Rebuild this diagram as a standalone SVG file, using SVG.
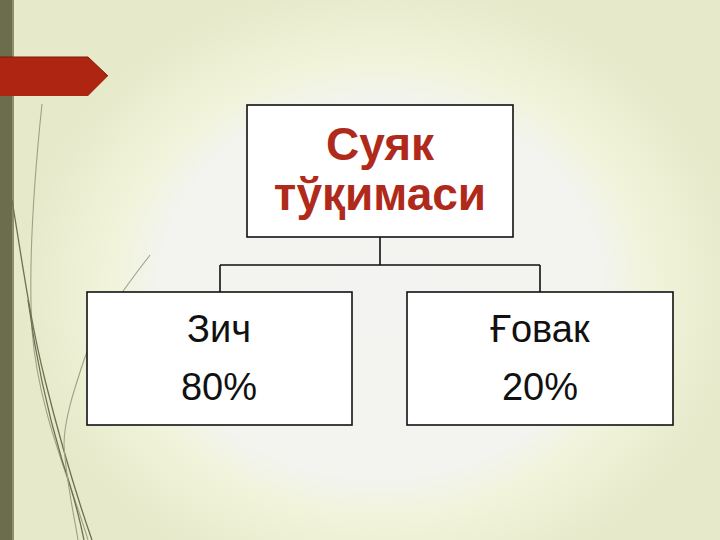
<svg xmlns="http://www.w3.org/2000/svg" width="720" height="540" viewBox="0 0 720 540">
  <defs>
    <radialGradient id="glow" cx="380" cy="290" r="360" gradientUnits="userSpaceOnUse" gradientTransform="translate(380 290) scale(1 0.85) translate(-380 -290)">
      <stop offset="0" stop-color="#F3F3F1"/>
      <stop offset="0.62" stop-color="#F3F3EF"/>
      <stop offset="0.75" stop-color="#F1F4DA"/>
      <stop offset="1" stop-color="#E7E9CB"/>
    </radialGradient>
    <style>
      .box { fill: #FFFFFF; stroke: #111111; stroke-width: 1.6; }
      .conn { fill: none; stroke: #111111; stroke-width: 1.6; }
      .title { font-family: "Liberation Sans", Arial, sans-serif; font-weight: bold; font-size: 46px; fill: #B02A1C; text-anchor: middle; }
      .lbl { font-family: "Liberation Sans", Arial, sans-serif; font-size: 38px; fill: #111111; text-anchor: middle; }
      .vine { fill: none; stroke: #6E7050; stroke-width: 1.3; }
      .vinel { fill: none; stroke: #9FA185; stroke-width: 1.1; }
    </style>
  </defs>
  <rect x="0" y="0" width="720" height="540" fill="url(#glow)"/>
  <rect x="0" y="0" width="12" height="540" fill="#6B6D4D"/>
  <rect x="12" y="0" width="2" height="540" fill="#8C8E6E"/>

  <g id="decor">
    <path class="vinel" d="M42,104 C34,180 28,260 32,330 C38,410 70,480 88,540"/>
    <path class="vine" d="M12,200 C22,260 30,320 45,380 C60,440 78,500 92,540"/>
    <path class="vine" d="M28,300 C36,360 50,420 62,460 C72,490 80,520 84,540"/>
    <path class="vinel" d="M150,255 C115,300 92,335 84,360 C74,390 64,420 64,445 C66,480 74,515 78,540"/>
    <path d="M0,57 L88,57 L108,76 L88,96 L0,96 Z" fill="#AE2612"/>
    <path d="M0,57 L88,57 L108,76" fill="none" stroke="#7A1A0C" stroke-width="1"/>
  </g>

  <g id="connectors">
    <path class="conn" d="M380,237 V265 M220,265 H540 M220,265 V292 M540,265 V292"/>
  </g>

  <g id="root">
    <rect class="box" x="247" y="105" width="266" height="132"/>
    <text class="title" x="380" y="160">Суяк</text>
    <text class="title" x="380" y="210">тўқимаси</text>
  </g>

  <g id="dense">
    <rect class="box" x="87" y="292" width="265" height="133"/>
    <text class="lbl" x="219" y="342">Зич</text>
    <text class="lbl" x="219" y="400">80%</text>
  </g>

  <g id="porous">
    <rect class="box" x="407" y="292" width="266" height="133"/>
    <text class="lbl" x="540" y="342">Ғовак</text>
    <text class="lbl" x="540" y="400">20%</text>
  </g>
</svg>
